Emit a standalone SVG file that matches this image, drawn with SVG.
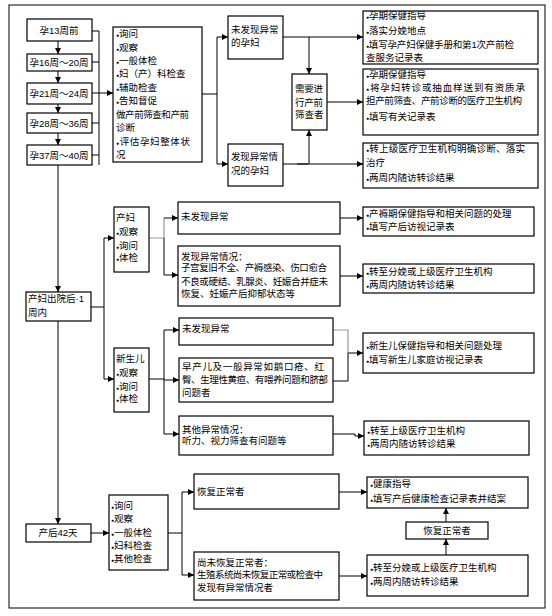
<svg xmlns="http://www.w3.org/2000/svg" width="552" height="616" viewBox="0 0 552 616">
<defs>
<marker id="ah" markerWidth="6" markerHeight="6" refX="6" refY="3" orient="auto" markerUnits="userSpaceOnUse"><path d="M0,0 L6,3 L0,6 z" fill="#000"/></marker>
<marker id="ahg" markerWidth="6" markerHeight="6" refX="6" refY="3" orient="auto" markerUnits="userSpaceOnUse"><path d="M0,0 L6,3 L0,6 z" fill="#000"/></marker>
<style>
text{font-family:"Liberation Sans","Noto Sans CJK SC",sans-serif;font-size:9.5px;fill:#000}
.c{text-anchor:middle}
.b{font-size:5px}
rect{fill:#fff;stroke:#000;stroke-width:1.2}
.frame{fill:none;stroke:#000;stroke-width:1}
.ln{fill:none;stroke:#000;stroke-width:1}
.ar{fill:none;stroke:#000;stroke-width:1;marker-end:url(#ah)}
.g{fill:none;stroke:#999;stroke-width:1.2}
</style>
</defs>
<rect class="frame" x="9" y="5" width="536" height="603"/>
<g id="connectors">
<path class="ar" d="M58,41 V54"/><path class="ar" d="M58,71 V83"/><path class="ar" d="M58,104 V113"/><path class="ar" d="M58,133 V145"/>
<path class="ln" d="M92,31 H99 M92,62 H99 M92,123 H99 M92,155 H99 M99,31 V165"/>
<path class="ar" d="M92,93 H113"/>
<path class="ln" d="M202,94 H217 M217,37 V164"/>
<path class="ar" d="M217,37 H228"/><path class="ar" d="M217,164 H228"/>
<path class="ar" d="M283,37 H363"/><path class="ar" d="M309,37 V74"/>
<path class="ar" d="M327,102 H363"/>
<path class="ar" d="M283,164 H363"/><path class="ar" d="M309,164 V130"/>
<path class="ln" d="M297,164 H308" stroke-width="2"/>
<path class="ar" d="M58,165 V292"/>
<path class="ar" d="M58,321 V524"/>
<path class="ln" d="M91,307 H104 M104,238 V379"/>
<path class="ar" d="M104,238 H114"/><path class="ar" d="M104,379 H114"/>
<path class="g" d="M149,238 H164 V218"/><path class="ar" d="M164,218 H178"/>
<path class="ln" d="M164,238 V275"/><path class="ar" d="M164,275 H178"/>
<path class="ar" d="M340,218 H363"/><path class="ar" d="M340,276 H363"/>
<path class="ln" d="M149,379 H164 M164,330 V434"/>
<path class="ar" d="M164,330 H179"/><path class="ar" d="M164,380 H179"/><path class="ar" d="M164,434 H179"/>
<path class="g" d="M333,330 H348 V353"/>
<path class="ln" d="M333,381 H348 V353"/><path class="ar" d="M348,353 H363"/>
<path class="ar" d="M333,434 H355 V436 H364"/>
<path class="ar" d="M91,533 H109"/>
<path class="ln" d="M168,533 H182 M182,492 V575"/>
<path class="ar" d="M182,492 H194"/><path class="ar" d="M182,575 H194"/>
<path class="ar" d="M339,492 H367"/><path class="ar" d="M339,576 H367"/>
<path class="ar" d="M446,555 V539"/><path class="ar" d="M446,522 V508"/>
</g>
<g id="n1"><rect x="27" y="19" width="65" height="22"/><text class="c" x="59" y="33.5">孕13周前</text></g>
<g id="n2"><rect x="27" y="54" width="65" height="17"/><text class="c" x="59" y="66">孕16周～20周</text></g>
<g id="n3"><rect x="27" y="83" width="65" height="21"/><text class="c" x="59" y="97">孕21周～24周</text></g>
<g id="n4"><rect x="27" y="113" width="65" height="20"/><text class="c" x="59" y="126.5">孕28周～36周</text></g>
<g id="n5"><rect x="27" y="145" width="65" height="20"/><text class="c" x="59" y="158.5">孕37周～40周</text></g>
<g id="n6"><rect x="113" y="27" width="89" height="135"/>
<text x="116" y="37.4"><tspan class="b">●</tspan>询问</text>
<text x="116" y="51.4"><tspan class="b">●</tspan>观察</text>
<text x="116" y="64.4"><tspan class="b">●</tspan>一般体检</text>
<text x="116" y="77.4"><tspan class="b">●</tspan>妇（产）科检查</text>
<text x="116" y="91.4"><tspan class="b">●</tspan>辅助检查</text>
<text x="116" y="104.4"><tspan class="b">●</tspan>告知督促</text>
<text x="116" y="118.4" textLength="73">做产前筛查和产前</text>
<text x="116" y="131.4">诊断</text>
<text x="116" y="145.4" textLength="74"><tspan class="b">●</tspan>评估孕妇整体状</text>
<text x="116" y="158.4">况</text>
</g>
<g id="n7"><rect x="228" y="16" width="55" height="43"/><text x="231" y="33.4">未发现异常</text><text x="231" y="46.4">的孕妇</text></g>
<g id="n8"><rect x="292" y="74" width="35" height="56"/><text x="295" y="92.4" textLength="28">需要进</text><text x="295" y="106.4" textLength="28">行产前</text><text x="295" y="118.4">筛查者</text></g>
<g id="n9"><rect x="228" y="144" width="55" height="42"/><text x="231" y="160.4" textLength="47">发现异常情</text><text x="231" y="174.4">况的孕妇</text></g>
<g id="n10"><rect x="363" y="11" width="175" height="53"/>
<text x="366" y="19.4"><tspan class="b">●</tspan>孕期保健指导</text>
<text x="366" y="34.4"><tspan class="b">●</tspan>落实分娩地点</text>
<text x="366" y="48.4" textLength="148"><tspan class="b">●</tspan>填写孕产妇保健手册和第1次产前检</text>
<text x="366" y="61.4">查服务记录表</text>
</g>
<g id="n11"><rect x="363" y="69" width="175" height="66"/>
<text x="366" y="78.4"><tspan class="b">●</tspan>孕期保健指导</text>
<text x="366" y="91.4" textLength="159"><tspan class="b">●</tspan>将孕妇转诊或抽血样送到有资质承</text>
<text x="366" y="104.4" textLength="156">担产前筛查、产前诊断的医疗卫生机构</text>
<text x="366" y="120.4"><tspan class="b">●</tspan>填写有关记录表</text>
</g>
<g id="n12"><rect x="363" y="143" width="175" height="45"/>
<text x="366" y="152.4" textLength="159"><tspan class="b">●</tspan>转上级医疗卫生机构明确诊断、落实</text>
<text x="366" y="166.4">治疗</text>
<text x="366" y="181.4"><tspan class="b">●</tspan>两周内随访转诊结果</text>
</g>
<g id="n13"><rect x="26" y="292" width="65" height="29"/><text x="28" y="302.4">产妇出院后·1</text><text x="28" y="316.4">周内</text></g>
<g id="n14"><rect x="114" y="207" width="35" height="65"/>
<text x="116" y="221.4">产妇</text><text x="116" y="235.4"><tspan class="b">●</tspan>观察</text><text x="116" y="249.4"><tspan class="b">●</tspan>询问</text><text x="116" y="261.4"><tspan class="b">●</tspan>体检</text></g>
<g id="n15"><rect x="114" y="348" width="35" height="64"/>
<text x="116" y="362.4">新生儿</text><text x="116" y="376.4"><tspan class="b">●</tspan>观察</text><text x="116" y="390.4"><tspan class="b">●</tspan>询问</text><text x="116" y="402.4"><tspan class="b">●</tspan>体检</text></g>
<g id="n16"><rect x="178" y="202" width="162" height="32"/><text x="181" y="220.4">未发现异常</text></g>
<g id="n17"><rect x="178" y="246" width="162" height="60"/>
<text x="181" y="260.4">发现异常情况：</text>
<text x="181" y="271.4" textLength="146">子宫复旧不全、产褥感染、伤口愈合</text>
<text x="181" y="285.4" textLength="147">不良或硬结、乳腺炎、妊娠合并症未</text>
<text x="181" y="297.4">恢复、妊娠产后抑郁状态等</text>
</g>
<g id="n18"><rect x="363" y="207" width="171" height="29"/>
<text x="366" y="217.4"><tspan class="b">●</tspan>产褥期保健指导和相关问题的处理</text>
<text x="366" y="230.4"><tspan class="b">●</tspan>填写产后访视记录表</text></g>
<g id="n19"><rect x="363" y="264" width="171" height="29"/>
<text x="366" y="275.4"><tspan class="b">●</tspan>转至分娩或上级医疗卫生机构</text>
<text x="366" y="288.4"><tspan class="b">●</tspan>两周内随访转诊结果</text></g>
<g id="n20"><rect x="179" y="318" width="154" height="27"/><text x="182" y="332.4">未发现异常</text></g>
<g id="n21"><rect x="179" y="358" width="154" height="44"/>
<text x="182" y="370.4" textLength="142">早产儿及一般异常如鹅口疮、红</text>
<text x="182" y="383.4" textLength="146">臀、生理性黄疸、有喂养问题和脐部</text>
<text x="182" y="396.4">问题者</text></g>
<g id="n22"><rect x="363" y="333" width="171" height="40"/>
<text x="366" y="349.4"><tspan class="b">●</tspan>新生儿保健指导和相关问题处理</text>
<text x="366" y="363.4"><tspan class="b">●</tspan>填写新生儿家庭访视记录表</text></g>
<g id="n23"><rect x="179" y="416" width="154" height="39"/>
<text x="182" y="433.4">其他异常情况：</text>
<text x="182" y="444.4">听力、视力筛查有问题等</text></g>
<g id="n24"><rect x="364" y="421" width="165" height="34"/>
<text x="367" y="434.4"><tspan class="b">●</tspan>转至上级医疗卫生机构</text>
<text x="367" y="447.4"><tspan class="b">●</tspan>两周内随访转诊结果</text></g>
<g id="n25"><rect x="26" y="524" width="65" height="18"/><text class="c" x="58" y="536.4">产后42天</text></g>
<g id="n26"><rect x="109" y="495" width="59" height="75"/>
<text x="111" y="509.4"><tspan class="b">●</tspan>询问</text>
<text x="111" y="522.4"><tspan class="b">●</tspan>观察</text>
<text x="111" y="536.4"><tspan class="b">●</tspan>一般体检</text>
<text x="111" y="549.4"><tspan class="b">●</tspan>妇科检查</text>
<text x="111" y="562.4"><tspan class="b">●</tspan>其他检查</text></g>
<g id="n27"><rect x="194" y="474" width="145" height="35"/><text x="197" y="495.4">恢复正常者</text></g>
<g id="n28"><rect x="367" y="477" width="161" height="31"/>
<text x="370" y="487.4"><tspan class="b">●</tspan>健康指导</text>
<text x="370" y="502.4"><tspan class="b">●</tspan>填写产后健康检查记录表并结案</text></g>
<g id="n29"><rect x="406" y="522" width="82" height="17"/><text class="c" x="447" y="534.4">恢复正常者</text></g>
<g id="n30"><rect x="194" y="552" width="145" height="48"/>
<text x="197" y="566.4">尚未恢复正常者：</text>
<text x="197" y="578.4" textLength="126">生殖系统尚未恢复正常或检查中</text>
<text x="197" y="591.4">发现有异常情况者</text></g>
<g id="n31"><rect x="367" y="555" width="161" height="41"/>
<text x="370" y="571.4"><tspan class="b">●</tspan>转至分娩或上级医疗卫生机构</text>
<text x="370" y="585.4"><tspan class="b">●</tspan>两周内随访转诊结果</text></g>
</svg>
